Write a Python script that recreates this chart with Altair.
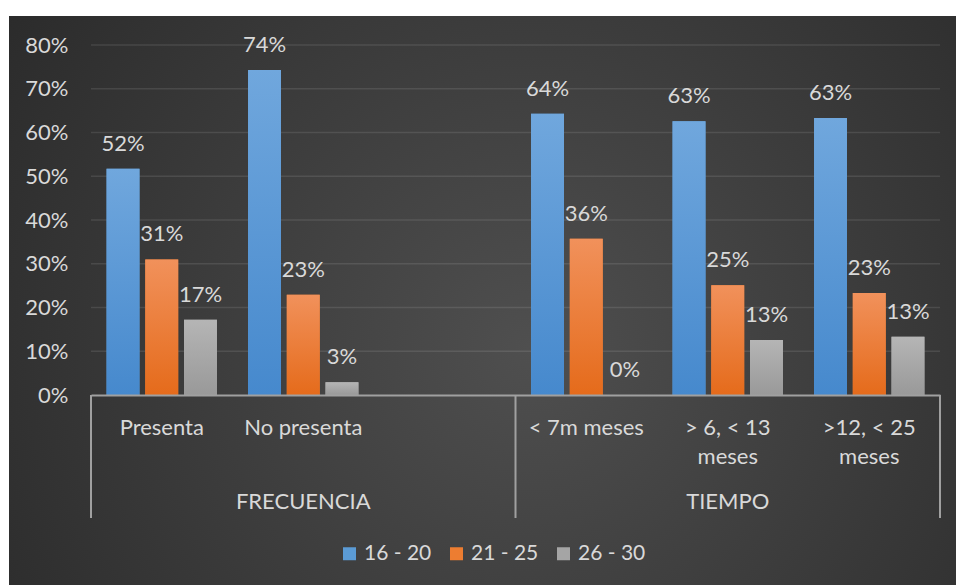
import altair as alt
import pandas as pd

# ---- data ----
categories = ["Presenta", "No presenta", "< 7m meses", "> 6, < 13|meses", ">12, < 25|meses"]
slots = ["Presenta", "No presenta", "gap", "< 7m meses", "> 6, < 13|meses", ">12, < 25|meses"]
series = ["16 - 20", "21 - 25", "26 - 30"]
v_16_20 = [0.517, 0.743, 0.643, 0.626, 0.633]
v_21_25 = [0.310, 0.229, 0.357, 0.251, 0.233]
v_26_30 = [0.172, 0.029, 0.0, 0.126, 0.133]
groups = ["FRECUENCIA", "TIEMPO"]
group_anchor = ["No presenta", "> 6, < 13|meses"]
y_ticks = [0.1, 0.2, 0.3, 0.4, 0.5, 0.6, 0.7, 0.8]
colors = ["#5b9bd5", "#ed7d31", "#a5a5a5"]
grad_top = ["#70a7dd", "#f1915b", "#b5b5b5"]
grad_bot = ["#4689cd", "#e56b1b", "#999999"]

rows = []
for s, vals in zip(series, [v_16_20, v_21_25, v_26_30]):
    for c, v in zip(categories, vals):
        rows.append({"cat": c, "series": s, "value": v})
df = pd.DataFrame(rows)
gdf = pd.DataFrame({"group": groups, "cat": group_anchor})
tdf = pd.DataFrame({"value": y_ticks})

FONT = "Lato"
TXT = "#d9d9d9"
LINE = "#a0a0a0"
W, H = 849, 350

x_enc = alt.X(
    "cat:N",
    scale=alt.Scale(domain=slots, paddingInner=0.22, paddingOuter=0.11),
    axis=alt.Axis(
        title=None, labelAngle=0, ticks=False, domain=True, domainColor=LINE,
        domainWidth=2, labelFont=FONT, labelFontSize=22, labelColor=TXT,
        labelPadding=22, labelBaseline="top", labelLineHeight=29,
        labelExpr="datum.value == 'gap' ? '' : split(datum.value, '|')",
        zindex=1,
    ),
)
xo_enc = alt.XOffset("series:N", scale=alt.Scale(domain=series, paddingInner=0.15))
y_axis = alt.Axis(
    title=None, format=".0%", values=[0, 0.1, 0.2, 0.3, 0.4, 0.5, 0.6, 0.7, 0.8],
    grid=False, ticks=False, domain=False, labelFont=FONT, labelFontSize=22,
    labelColor=TXT, labelPadding=23, zindex=1,
)
y_enc = alt.Y("value:Q", scale=alt.Scale(domain=[0, 0.8]), axis=y_axis)

bg = alt.Chart(pd.DataFrame({"a": [0]})).mark_rect(
    color=alt.RadialGradient(
        gradient="radial",
        stops=[alt.GradientStop(color="#4f4f4f", offset=0),
               alt.GradientStop(color="#262626", offset=1)],
        x1=0.55, y1=0.55, x2=0.55, y2=0.55, r1=0, r2=0.75,
    )
).encode(x=alt.value(-82), x2=alt.value(865), y=alt.value(-29), y2=alt.value(540))

grid = alt.Chart(tdf).mark_rule(color="#ffffff", opacity=0.1, strokeWidth=1.5).encode(
    y=y_enc, x=alt.value(0), x2=alt.value(W)
)

bars = alt.Chart(df).mark_bar().encode(
    x=x_enc, xOffset=xo_enc, y=y_enc,
    color=alt.Color("series:N", scale=alt.Scale(domain=series, range=colors),
                    legend=alt.Legend(title=None)),
)

grad_layers = []
for s, top, bot in zip(series, grad_top, grad_bot):
    grad_layers.append(
        alt.Chart(df).transform_filter(alt.datum.series == s).mark_bar(
            color=alt.LinearGradient(
                gradient="linear",
                stops=[alt.GradientStop(color=top, offset=0),
                       alt.GradientStop(color=bot, offset=1)],
                x1=0, x2=0, y1=0, y2=1,
            )
        ).encode(x="cat:N", xOffset="series:N", y="value:Q")
    )

labels = alt.Chart(df).mark_text(
    dy=-18, baseline="alphabetic", font=FONT, fontSize=22, color=TXT
).encode(x="cat:N", xOffset="series:N", y="value:Q",
         text=alt.Text("value:Q", format=".0%"))

group_txt = alt.Chart(gdf).mark_text(
    font=FONT, fontSize=22, color=TXT, baseline="middle"
).encode(x="cat:N", y=alt.value(457), text="group:N")

dividers = alt.Chart(pd.DataFrame({"p": [0, W * 0.5, W]})).mark_rule(
    color=LINE, strokeWidth=2
).encode(x=alt.X("p:Q", scale=None), y=alt.value(H), y2=alt.value(473))

chart = alt.layer(bg, grid, bars, *grad_layers, labels, group_txt, dividers).properties(
    width=W, height=H,
    autosize=alt.AutoSizeParams(type="none"),
    padding={"left": 91, "top": 45, "right": 16, "bottom": 190},
).configure(background="white").configure_view(stroke=None).configure_legend(
    orient="none", legendX=248, legendY=498, direction="horizontal",
    labelFont=FONT, labelFontSize=21, labelColor=TXT, symbolType="square",
    symbolSize=169, symbolStrokeWidth=0, columnPadding=14, labelOffset=4,
)

chart.save("out.html", embed_options={"renderer": "svg", "actions": False})
